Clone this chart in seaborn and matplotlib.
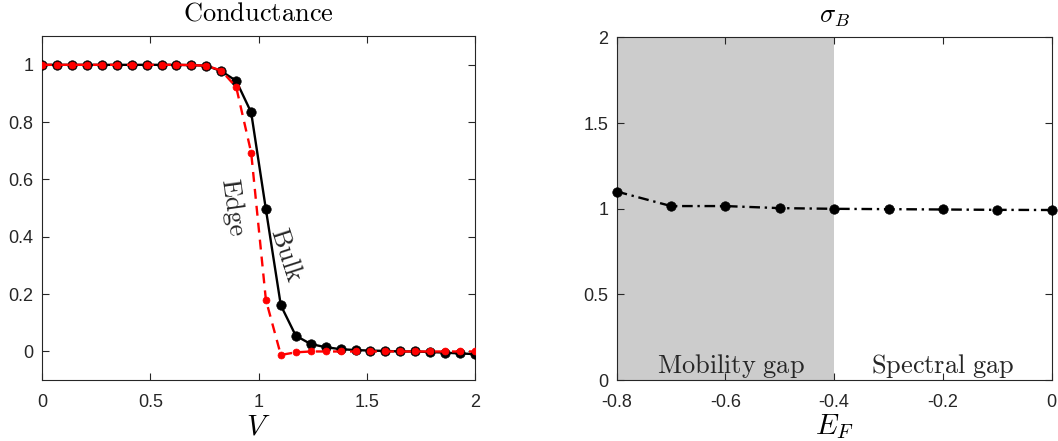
import matplotlib
matplotlib.use("Agg")
import pandas as pd
import matplotlib.pyplot as plt
import seaborn as sns

# ── Data ──────────────────────────────────────────────────────────────────────
V = [0.0, 0.069, 0.138, 0.207, 0.276, 0.345, 0.414, 0.483, 0.552, 0.621,
     0.690, 0.759, 0.828, 0.897, 0.966, 1.034, 1.103, 1.172, 1.241, 1.310,
     1.379, 1.448, 1.517, 1.586, 1.655, 1.724, 1.793, 1.862, 1.931, 2.0]
BULK = [1.0, 1.0, 1.0, 1.0, 1.0, 1.0, 1.0, 1.0, 1.0, 1.0,
        0.999, 0.997, 0.978, 0.944, 0.834, 0.496, 0.161, 0.055, 0.026, 0.015,
        0.008, 0.005, 0.003, 0.002, 0.0, 0.0, -0.002, -0.004, -0.007, -0.009]
EDGE = [1.0, 1.0, 1.0, 1.0, 1.0, 1.0, 1.0, 1.0, 1.0, 1.0,
        0.999, 0.997, 0.98, 0.922, 0.694, 0.18, -0.012, -0.003, 0.0, 0.0,
        0.0, 0.0, 0.0, 0.0, 0.0, 0.0, 0.0, 0.0, 0.0, 0.0]

EF = [-0.8, -0.7, -0.6, -0.5, -0.4, -0.3, -0.2, -0.1, 0.0]
SIGMA_B = [1.101, 1.016, 1.016, 1.004, 1.0, 0.998, 0.996, 0.994, 0.993]

LEFT_XTICKS = [0, 0.5, 1, 1.5, 2]
LEFT_XLABELS = ["0", "0.5", "1", "1.5", "2"]
LEFT_YTICKS = [0, 0.2, 0.4, 0.6, 0.8, 1]
LEFT_YLABELS = ["0", "0.2", "0.4", "0.6", "0.8", "1"]
RIGHT_XTICKS = [-0.8, -0.6, -0.4, -0.2, 0]
RIGHT_XLABELS = ["-0.8", "-0.6", "-0.4", "-0.2", "0"]
RIGHT_YTICKS = [0, 0.5, 1, 1.5, 2]
RIGHT_YLABELS = ["0", "0.5", "1", "1.5", "2"]

AXC = "#262626"

sns.set_theme(style="ticks")
plt.rcParams["font.family"] = ["Liberation Sans", "DejaVu Sans"]
plt.rcParams["mathtext.fontset"] = "cm"
plt.rcParams["axes.unicode_minus"] = False
plt.rcParams["axes.edgecolor"] = AXC
plt.rcParams["axes.linewidth"] = 0.8
plt.rcParams["xtick.color"] = AXC
plt.rcParams["ytick.color"] = AXC


def style_axes(ax, xticks, xlabels, yticks, ylabels):
    ax.set_xticks(xticks)
    ax.set_xticklabels(xlabels)
    ax.set_yticks(yticks)
    ax.set_yticklabels(ylabels)
    ax.tick_params(direction="in", length=5, width=0.8, labelsize=13,
                   top=True, right=True)
    ax.tick_params(axis="x", pad=10)
    ax.tick_params(axis="y", pad=6)
    for s in ax.spines.values():
        s.set_visible(True)
        s.set_color(AXC)


fig = plt.figure(figsize=(10.58, 4.41), dpi=100)

# ── Left: conductance ─────────────────────────────────────────────────────────
ax1 = fig.add_axes([0.0397, 0.138, 0.4093, 0.780])
cond = pd.DataFrame({"V": V, "Bulk": BULK, "Edge": EDGE})
sns.lineplot(data=cond, x="V", y="Bulk", ax=ax1, color="black", lw=1.7,
             marker="o", markersize=6.8, markeredgecolor="black",
             markeredgewidth=0.5, zorder=3)
sns.lineplot(data=cond, x="V", y="Edge", ax=ax1, color="#ff0000", lw=1.7,
             linestyle=(0, (4.2, 3)), marker="o", markersize=5,
             markeredgecolor="#ff0000", markeredgewidth=0.5, zorder=4)
ax1.set_xlim(0, 2)
ax1.set_ylim(-0.1, 1.1)
style_axes(ax1, LEFT_XTICKS, LEFT_XLABELS, LEFT_YTICKS, LEFT_YLABELS)
ax1.set_title(r"$\mathrm{Conductance}$", fontsize=19, pad=11, color="black")
ax1.set_xlabel(r"$V$", fontsize=21, labelpad=1, color="black")
ax1.set_ylabel("")
ax1.text(0.882, 0.504, r"$\mathrm{Edge}$", rotation=-82, fontsize=19,
         ha="center", va="center", rotation_mode="anchor")
ax1.text(1.13, 0.337, r"$\mathrm{Bulk}$", rotation=-72, fontsize=19,
         ha="center", va="center", rotation_mode="anchor")

# ── Right: sigma_B ────────────────────────────────────────────────────────────
ax2 = fig.add_axes([0.5829, 0.138, 0.4111, 0.777])
ax2.axvspan(-0.8, -0.4, color="#cccccc", lw=0, zorder=0)
sig = pd.DataFrame({"EF": EF, "sigma": SIGMA_B})
sns.lineplot(data=sig, x="EF", y="sigma", ax=ax2, color="black", lw=1.7,
             linestyle=(0, (4.5, 2, 1, 2)), marker="o", markersize=6.8,
             markeredgecolor="black", markeredgewidth=0.5, zorder=3,
             clip_on=False)
ax2.set_xlim(-0.8, 0)
ax2.set_ylim(0, 2)
style_axes(ax2, RIGHT_XTICKS, RIGHT_XLABELS, RIGHT_YTICKS, RIGHT_YLABELS)
ax2.set_title(r"$\sigma_B$", fontsize=19, pad=11, color="black")
ax2.set_xlabel(r"$E_F$", fontsize=21, labelpad=1, color="black")
ax2.set_ylabel("")
ax2.text(-0.59, 0.04, r"$\mathrm{Mobility\ gap}$", fontsize=19,
         ha="center", va="baseline")
ax2.text(-0.2, 0.04, r"$\mathrm{Spectral\ gap}$", fontsize=19,
         ha="center", va="baseline")

fig.savefig("out.png", dpi=100)
